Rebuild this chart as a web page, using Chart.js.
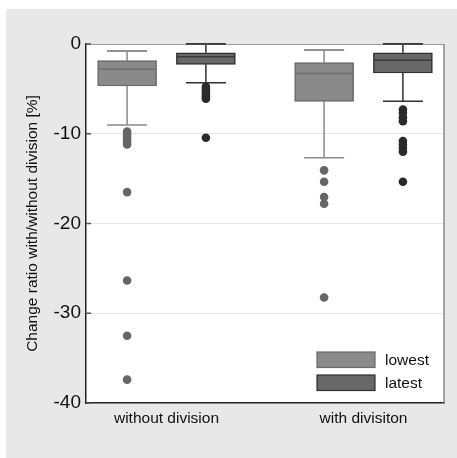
<!DOCTYPE html>
<html>
<head>
<meta charset="utf-8">
<style>
  html, body { margin: 0; padding: 0; background: #ffffff; }
  #wrap { width: 457px; height: 458px; position: relative; }
</style>
<script src="https://cdn.jsdelivr.net/npm/chart.js@4/dist/chart.umd.min.js"></script>
</head>
<body>
<div id="wrap"><canvas id="c" width="457" height="458"></canvas></div>
<script>
// ---- data ----
const categories = ['without division', 'with divisiton'];
const seriesNames = ['lowest', 'latest'];
const yTicks = [0, -10, -20, -30, -40];
const yTitle = 'Change ratio with/without division [%]';

const lowestWhiskerTop = [-0.78, -0.67];
const lowestBoxTop = [-1.86, -2.08];
const lowestMedian = [-2.8, -3.3];
const lowestBoxBottom = [-4.68, -6.39];
const lowestWhiskerBottom = [-9.03, -12.67];
const lowestOutliersA = [-9.75, -10.05, -10.35, -10.65, -10.95, -11.2, -16.5, -26.35, -32.5, -37.4];
const lowestOutliersB = [-14.08, -15.35, -17.05, -17.8, -28.25];

const latestWhiskerTop = [0, 0];
const latestBoxTop = [-0.97, -0.97];
const latestMedian = [-1.41, -1.82];
const latestBoxBottom = [-2.27, -3.23];
const latestWhiskerBottom = [-4.31, -6.39];
const latestOutliersA = [-4.75, -5.0, -5.3, -5.6, -5.85, -6.1, -10.45];
const latestOutliersB = [-7.3, -7.7, -8.2, -8.6, -10.8, -11.2, -11.6, -12.0, -15.35];

// ---- styling ----
const FONT = "'Liberation Sans', Arial, Helvetica, sans-serif";
const groupOffset = 0.2;
const styles = [
  { fill: '#8a8a8a', border: '#686868', whisker: '#8a8a8a', median: '#6e6e6e', dot: '#666666' },
  { fill: '#686868', border: '#303030', whisker: '#303030', median: '#3a3a3a', dot: '#2a2a2a' }
];

const series = [
  { top: lowestWhiskerTop, q3: lowestBoxTop, med: lowestMedian, q1: lowestBoxBottom, bot: lowestWhiskerBottom, out: [lowestOutliersA, lowestOutliersB], dx: -groupOffset },
  { top: latestWhiskerTop, q3: latestBoxTop, med: latestMedian, q1: latestBoxBottom, bot: latestWhiskerBottom, out: [latestOutliersA, latestOutliersB], dx: groupOffset }
];

const datasets = [];
series.forEach((s, si) => {
  datasets.push({
    type: 'bar',
    label: seriesNames[si],
    data: categories.map((c, ci) => ({ x: ci + 1 + s.dx, y: [s.q3[ci], s.q1[ci]] })),
    backgroundColor: styles[si].fill,
    borderColor: styles[si].border,
    borderWidth: 1.5,
    borderSkipped: false,
    barThickness: 59,
    grouped: false,
    order: 2
  });
});
series.forEach((s, si) => {
  const pts = [];
  s.out.forEach((arr, ci) => arr.forEach(v => pts.push({ x: ci + 1 + s.dx, y: v })));
  datasets.push({
    type: 'scatter',
    label: seriesNames[si] + ' outliers',
    data: pts,
    pointRadius: 4.3,
    pointBackgroundColor: styles[si].dot,
    pointBorderColor: styles[si].dot,
    pointBorderWidth: 0,
    showLine: false,
    order: 1
  });
});

const boxPlugin = {
  id: 'boxExtras',
  beforeDraw(chart) {
    const ctx = chart.ctx, a = chart.chartArea;
    ctx.save();
    ctx.fillStyle = '#e8e8e8';
    ctx.fillRect(6, 9, chart.width - 6, chart.height - 9);
    ctx.fillStyle = '#ffffff';
    ctx.fillRect(a.left, a.top, a.right - a.left, a.bottom - a.top);
    ctx.restore();
  },
  beforeDatasetsDraw(chart) {
    const ctx = chart.ctx, xs = chart.scales.x, ys = chart.scales.y;
    ctx.save();
    ctx.lineWidth = 1.5;
    series.forEach((s, si) => {
      ctx.strokeStyle = styles[si].whisker;
      categories.forEach((c, ci) => {
        const xc = xs.getPixelForValue(ci + 1 + s.dx);
        const capHalf = 20;
        const yT = ys.getPixelForValue(s.top[ci]);
        const yQ3 = ys.getPixelForValue(s.q3[ci]);
        const yQ1 = ys.getPixelForValue(s.q1[ci]);
        const yB = ys.getPixelForValue(s.bot[ci]);
        ctx.beginPath();
        ctx.moveTo(xc, yQ3); ctx.lineTo(xc, yT);
        ctx.moveTo(xc - capHalf, yT); ctx.lineTo(xc + capHalf, yT);
        ctx.moveTo(xc, yQ1); ctx.lineTo(xc, yB);
        ctx.moveTo(xc - capHalf, yB); ctx.lineTo(xc + capHalf, yB);
        ctx.stroke();
      });
    });
    ctx.restore();
  },
  afterDatasetsDraw(chart) {
    const ctx = chart.ctx, xs = chart.scales.x, ys = chart.scales.y, a = chart.chartArea;
    ctx.save();
    // medians
    ctx.lineWidth = 1.5;
    series.forEach((s, si) => {
      ctx.strokeStyle = styles[si].median;
      categories.forEach((c, ci) => {
        const xc = xs.getPixelForValue(ci + 1 + s.dx);
        const ym = ys.getPixelForValue(s.med[ci]);
        ctx.beginPath();
        ctx.moveTo(xc - 28.5, ym); ctx.lineTo(xc + 28.5, ym);
        ctx.stroke();
      });
    });
    // top & right frame
    ctx.strokeStyle = '#9a9a9a';
    ctx.lineWidth = 1;
    ctx.beginPath();
    ctx.moveTo(a.left, a.top + 0.5); ctx.lineTo(a.right, a.top + 0.5);
    ctx.stroke();
    ctx.strokeStyle = '#8a8a8a';
    ctx.lineWidth = 1.5;
    ctx.beginPath();
    ctx.moveTo(a.right, a.top); ctx.lineTo(a.right, a.bottom);
    ctx.stroke();
    // redraw top caps over frame
    ctx.lineWidth = 1.5;
    series.forEach((s, si) => {
      ctx.strokeStyle = styles[si].whisker;
      categories.forEach((c, ci) => {
        const xc = xs.getPixelForValue(ci + 1 + s.dx);
        const yT = ys.getPixelForValue(s.top[ci]);
        ctx.beginPath();
        ctx.moveTo(xc - 20, yT); ctx.lineTo(xc + 20, yT);
        ctx.stroke();
      });
    });
    // inward tick marks
    ctx.strokeStyle = '#555555';
    ctx.lineWidth = 1.5;
    yTicks.forEach(v => {
      const y = ys.getPixelForValue(v);
      ctx.beginPath();
      ctx.moveTo(a.left, y); ctx.lineTo(a.left + 5, y);
      ctx.stroke();
    });
    // legend
    ctx.font = '15.5px ' + FONT;
    ctx.textBaseline = 'middle';
    ctx.textAlign = 'left';
    seriesNames.forEach((name, si) => {
      const bx = a.right - 127, bw = 58, bh = 15.5;
      const by = a.bottom - 51 + si * 23;
      ctx.fillStyle = styles[si].fill;
      ctx.fillRect(bx, by, bw, bh);
      ctx.strokeStyle = styles[si].border;
      ctx.lineWidth = 1.2;
      ctx.strokeRect(bx, by, bw, bh);
      ctx.fillStyle = '#111111';
      ctx.fillText(name, bx + 68, by + bh / 2 + 0.5);
    });
    ctx.restore();
  }
};

new Chart(document.getElementById('c'), {
  type: 'bar',
  data: { datasets },
  plugins: [boxPlugin],
  options: {
    responsive: false,
    animation: false,
    devicePixelRatio: 1,
    layout: { padding: { top: 44, right: 13, bottom: 0, left: 0 } },
    plugins: { legend: { display: false }, tooltip: { enabled: false } },
    scales: {
      x: {
        type: 'linear',
        offset: false,
        min: 0.5914,
        max: 2.4086,
        afterFit(scale) { scale.height = 55; },
        afterBuildTicks(scale) { scale.ticks = categories.map((c, i) => ({ value: i + 1 })); },
        ticks: {
          callback: (v) => categories[Math.round(v) - 1],
          font: { family: FONT, size: 15.5 },
          color: '#111111',
          padding: 6,
          maxRotation: 0,
          autoSkip: false
        },
        grid: { display: false, drawTicks: false, offset: false },
        border: { display: true, color: '#222222', width: 1.5 }
      },
      y: {
        type: 'linear',
        min: -40,
        max: 0,
        afterFit(scale) { scale.width = 86; },
        afterBuildTicks(scale) { scale.ticks = yTicks.map(v => ({ value: v })); },
        ticks: {
          font: { family: FONT, size: 19 },
          color: '#111111',
          padding: 5,
          callback: (v) => String(v)
        },
        grid: { color: '#e6e6e6', lineWidth: 1, drawTicks: false },
        border: { display: true, color: '#222222', width: 1.5 },
        title: {
          display: true,
          text: yTitle,
          font: { family: FONT, size: 15.5 },
          color: '#111111',
          padding: { top: 23.4, bottom: 0 }
        }
      }
    }
  }
});
</script>
</body>
</html>
